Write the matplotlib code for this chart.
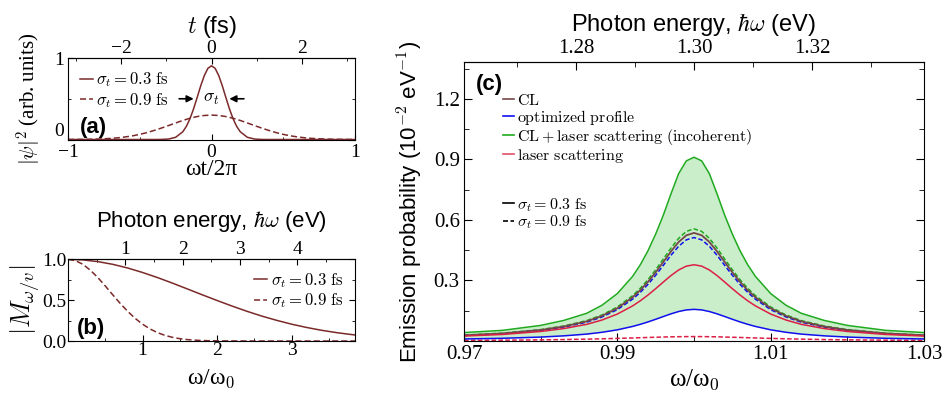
import matplotlib
matplotlib.use('Agg')
import matplotlib.pyplot as plt
from matplotlib.lines import Line2D
from matplotlib.ticker import MultipleLocator

plt.rcParams['font.family'] = ['Liberation Sans', 'DejaVu Sans']
plt.rcParams['mathtext.fontset'] = 'cm'
plt.rcParams['xtick.direction'] = 'in'
plt.rcParams['ytick.direction'] = 'in'
plt.rcParams['xtick.top'] = True
plt.rcParams['ytick.right'] = True

MAROON = '#7b2a2a'
SERIF = ['Liberation Serif', 'DejaVu Serif']

# panel (a): |psi|^2 vs wt/2pi
a_x_03 = [-1.0, -0.5, -0.4, -0.35, -0.3, -0.25, -0.2, -0.175, -0.15, -0.125, -0.1, -0.075, -0.05, -0.025,
          0.0, 0.025, 0.05, 0.075, 0.1, 0.125, 0.15, 0.175, 0.2, 0.25, 0.3, 0.35, 0.4, 0.5, 1.0]
a_y_03 = [0.0, 0.0, 0.0001, 0.0009, 0.0058, 0.027, 0.0956, 0.162, 0.2556, 0.376, 0.516, 0.660, 0.786, 0.874,
          0.905, 0.874, 0.786, 0.660, 0.516, 0.376, 0.2556, 0.162, 0.0956, 0.027, 0.0058, 0.0009, 0.0001, 0.0, 0.0]
a_x_09 = [-1.0, -0.95, -0.9, -0.85, -0.8, -0.75, -0.7, -0.65, -0.6, -0.55, -0.5, -0.45, -0.4, -0.35, -0.3,
          -0.25, -0.2, -0.15, -0.1, -0.05, 0.0, 0.05, 0.1, 0.15, 0.2, 0.25, 0.3, 0.35, 0.4, 0.45, 0.5,
          0.55, 0.6, 0.65, 0.7, 0.75, 0.8, 0.85, 0.9, 0.95, 1.0]
a_y_09 = [0.0006, 0.001, 0.0019, 0.003, 0.0055, 0.009, 0.014, 0.021, 0.032, 0.045, 0.063, 0.085, 0.111, 0.140, 0.171,
          0.203, 0.234, 0.261, 0.282, 0.295, 0.300, 0.295, 0.282, 0.261, 0.234, 0.203, 0.171, 0.140, 0.111, 0.085, 0.063,
          0.045, 0.032, 0.021, 0.014, 0.009, 0.0055, 0.003, 0.0019, 0.001, 0.0006]

# panel (b): |M| vs w/w0
b_x_03 = [0.0, 0.2, 0.4, 0.6, 0.8, 1.0, 1.2, 1.4, 1.6, 1.8, 2.0, 2.2, 2.4, 2.6, 2.8, 3.0, 3.2, 3.4, 3.6, 3.8, 3.9]
b_y_03 = [1.0, 0.993, 0.972, 0.939, 0.894, 0.839, 0.777, 0.709, 0.638, 0.566, 0.496, 0.428, 0.364, 0.305, 0.253,
          0.206, 0.166, 0.1315, 0.1029, 0.0793, 0.0693]
b_x_09 = [0.0, 0.1, 0.2, 0.3, 0.4, 0.5, 0.6, 0.7, 0.8, 0.9, 1.0, 1.1, 1.2, 1.3, 1.4, 1.5, 1.6, 1.7, 1.8, 1.9, 2.0,
          2.5, 3.0, 3.5, 3.9]
b_y_09 = [1.0, 0.984, 0.939, 0.867, 0.777, 0.674, 0.566, 0.461, 0.364, 0.278, 0.206, 0.148, 0.1028, 0.0693, 0.0452,
          0.0286, 0.0175, 0.0104, 0.006, 0.0033, 0.0018, 0.0, 0.0, 0.0, 0.0]

# panel (c): emission probability (1e-2 / eV) vs w/w0
c_omega = [0.970, 0.975, 0.980, 0.983, 0.986, 0.988, 0.990, 0.992, 0.993, 0.994, 0.995, 0.996, 0.997, 0.998, 0.999,
           1.000,
           1.001, 1.002, 1.003, 1.004, 1.005, 1.006, 1.007, 1.008, 1.010, 1.012, 1.014, 1.017, 1.020, 1.025, 1.030]
cl_sum_03 = [0.0419, 0.0528, 0.0774, 0.1020, 0.1374, 0.1774, 0.2352, 0.3209, 0.3783, 0.4478, 0.5302, 0.6241, 0.7300,
             0.8300, 0.8930, 0.911, 0.8930, 0.8300, 0.7300, 0.6241, 0.5302, 0.4478, 0.3783, 0.3209, 0.2352, 0.1774,
             0.1374, 0.1020, 0.0774, 0.0528, 0.0419]
cl_sum_09 = [0.0295, 0.0389, 0.0567, 0.0745, 0.1011, 0.1292, 0.1687, 0.2252, 0.2617, 0.3044, 0.3533, 0.4067, 0.4608,
             0.5092, 0.5435, 0.556, 0.5435, 0.5092, 0.4608, 0.4067, 0.3533, 0.3044, 0.2617, 0.2252, 0.1687, 0.1292,
             0.1011, 0.0745, 0.0567, 0.0389, 0.0295]
cl_only = [0.0284, 0.0375, 0.0547, 0.0718, 0.0974, 0.1245, 0.1626, 0.2171, 0.2522, 0.2935, 0.3406, 0.3920, 0.4442,
           0.4909, 0.5240, 0.536, 0.5240, 0.4909, 0.4442, 0.3920, 0.3406, 0.2935, 0.2522, 0.2171, 0.1626, 0.1245,
           0.0974, 0.0718, 0.0547, 0.0375, 0.0284]
opt_09 = [0.0272, 0.0359, 0.0523, 0.0687, 0.0933, 0.1192, 0.1556, 0.2078, 0.2414, 0.2809, 0.3260, 0.3752, 0.4252,
          0.4699, 0.5015, 0.513, 0.5015, 0.4699, 0.4252, 0.3752, 0.3260, 0.2809, 0.2414, 0.2078, 0.1556, 0.1192,
          0.0933, 0.0687, 0.0523, 0.0359, 0.0272]
laser_03 = [0.0246, 0.0325, 0.0473, 0.0616, 0.0826, 0.1041, 0.1337, 0.1743, 0.1995, 0.2281, 0.2595, 0.2925, 0.3246,
            0.3523, 0.3712, 0.378, 0.3712, 0.3523, 0.3246, 0.2925, 0.2595, 0.2281, 0.1995, 0.1743, 0.1337, 0.1041,
            0.0826, 0.0616, 0.0473, 0.0325, 0.0246]
opt_03 = [0.0102, 0.0135, 0.0196, 0.0256, 0.0343, 0.0433, 0.0555, 0.0724, 0.0829, 0.0947, 0.1078, 0.1215, 0.1348,
          0.1463, 0.1542, 0.157, 0.1542, 0.1463, 0.1348, 0.1215, 0.1078, 0.0947, 0.0829, 0.0724, 0.0555, 0.0433,
          0.0343, 0.0256, 0.0196, 0.0135, 0.0102]
laser_09 = [0.0030, 0.0041, 0.0058, 0.0073, 0.0093, 0.0110, 0.0130, 0.0152, 0.0164, 0.0176, 0.0187, 0.0198, 0.0207,
            0.0214, 0.0219, 0.022, 0.0219, 0.0214, 0.0207, 0.0198, 0.0187, 0.0176, 0.0164, 0.0152, 0.0130, 0.0110,
            0.0093, 0.0073, 0.0058, 0.0041, 0.0030]

E0 = 1.30      # eV, photon energy at w0
T0 = 3.18      # fs, optical period


def serif_ticks(ax, size=14):
    for lab in ax.get_xticklabels() + ax.get_yticklabels():
        lab.set_fontfamily(SERIF)
        lab.set_fontsize(size)


fig = plt.figure(figsize=(9.47, 4.03), dpi=100)

# ---- (a)
ax_a = fig.add_axes([0.0718, 0.6538, 0.3031, 0.2022])
ax_a.plot(a_x_03, a_y_03, color=MAROON, lw=1.1)
ax_a.plot(a_x_09, a_y_09, color=MAROON, lw=1.1, ls=(0, (4, 2)))
ax_a.set_xlim(-1, 1)
ax_a.set_ylim(0, 1)
ax_a.set_xticks([-1, 0, 1])
ax_a.xaxis.set_minor_locator(MultipleLocator(0.5))
ax_a.set_yticks([0, 1])
ax_a.yaxis.set_minor_locator(MultipleLocator(0.5))
ax_a.tick_params(which='both', top=False)
ax_a.tick_params(which='major', length=4, pad=1)
ax_a.tick_params(axis='y', which='major', pad=3)
ax_a.tick_params(axis='x', which='major', pad=3)
ax_a.tick_params(which='minor', length=2.5)
serif_ticks(ax_a)
ax_a.get_yticklabels()[0].set_verticalalignment('bottom')
ax_a.set_xlabel('ωt/2π', fontfamily=SERIF, fontsize=17, labelpad=-1)
ax_a.set_ylabel(r'$|\psi|^2$ (arb. units)', fontfamily=SERIF, fontsize=15, labelpad=7)
sec_a = ax_a.secondary_xaxis('top', functions=(lambda x: x * T0, lambda t: t / T0))
sec_a.set_xticks([-2, 0, 2])
sec_a.xaxis.set_minor_locator(MultipleLocator(1))
sec_a.tick_params(which='major', direction='in', length=4, pad=1)
sec_a.tick_params(which='minor', direction='in', length=2.5)
serif_ticks(sec_a)
sec_a.set_xlabel(r'$t$ (fs)', fontsize=17, labelpad=5)
ax_a.text(0.04, 0.08, '(a)', transform=ax_a.transAxes, fontsize=16, fontweight='bold')
ax_a.annotate('', xy=(-0.105, 0.5), xytext=(-0.245, 0.5),
              arrowprops=dict(arrowstyle='-|>', color='black', lw=1.2, mutation_scale=10))
ax_a.annotate('', xy=(0.105, 0.5), xytext=(0.245, 0.5),
              arrowprops=dict(arrowstyle='-|>', color='black', lw=1.2, mutation_scale=10))
ax_a.text(0.0, 0.5, r'$\sigma_t$', ha='center', va='center', fontsize=13)
hl_a = [Line2D([], [], color=MAROON, lw=1.1), Line2D([], [], color=MAROON, lw=1.1, ls=(0, (4, 2)))]
ax_a.legend(hl_a, [r'$\sigma_t = 0.3\ \mathrm{fs}$', r'$\sigma_t = 0.9\ \mathrm{fs}$'], loc='upper left',
            bbox_to_anchor=(0.0, 0.99), frameon=False, fontsize=12, handlelength=0.8, handletextpad=0.2,
            labelspacing=0.1, borderaxespad=0.3)

# ---- (b)
ax_b = fig.add_axes([0.0718, 0.1538, 0.3031, 0.2027])
ax_b.plot(b_x_03, b_y_03, color=MAROON, lw=1.1)
ax_b.plot(b_x_09, b_y_09, color=MAROON, lw=1.1, ls=(0, (4, 2)))
ax_b.set_xlim(0, 3.85)
ax_b.set_ylim(0, 1)
ax_b.set_xticks([1, 2, 3])
ax_b.xaxis.set_minor_locator(MultipleLocator(0.5))
ax_b.set_yticks([0, 0.5, 1.0])
ax_b.set_yticklabels(['0.0', '0.5', '1.0'])
ax_b.yaxis.set_minor_locator(MultipleLocator(0.25))
ax_b.tick_params(which='both', top=False)
ax_b.tick_params(which='major', length=4, pad=1)
ax_b.tick_params(which='minor', length=2.5)
serif_ticks(ax_b)
ax_b.set_xlabel(r'ω/ω$_0$', fontfamily=SERIF, fontsize=17, labelpad=6)
ax_b.set_ylabel(r'$|M_{\omega/v}|$', fontsize=19, labelpad=0)
sec_b = ax_b.secondary_xaxis('top', functions=(lambda x: x * E0, lambda e: e / E0))
sec_b.set_xticks([1, 2, 3, 4])
sec_b.xaxis.set_minor_locator(MultipleLocator(0.5))
sec_b.tick_params(which='major', direction='in', length=4, pad=1)
sec_b.tick_params(which='minor', direction='in', length=2.5)
serif_ticks(sec_b)
sec_b.set_xlabel(r'Photon energy, $\hbar\omega$ (eV)', fontsize=16, labelpad=10)
ax_b.text(0.03, 0.08, '(b)', transform=ax_b.transAxes, fontsize=16, fontweight='bold')
ax_b.legend(hl_a, [r'$\sigma_t = 0.3\ \mathrm{fs}$', r'$\sigma_t = 0.9\ \mathrm{fs}$'], loc='upper right',
            bbox_to_anchor=(1.0, 1.0), frameon=False, fontsize=12, handlelength=0.8, handletextpad=0.2,
            labelspacing=0.1, borderaxespad=0.3)

# ---- (c)
CL_C = '#744848'
BLUE = '#1010ee'
GREEN = '#1faa1f'
RED = '#dc1f45'
ax_c = fig.add_axes([0.4900, 0.1538, 0.4857, 0.6923])
ax_c.fill_between(c_omega, opt_03, cl_sum_03, color='#caedca', lw=0)
ax_c.plot(c_omega, cl_sum_09, color=GREEN, lw=1.1, ls=(0, (3, 1.5)))
ax_c.plot(c_omega, opt_09, color=BLUE, lw=1.1, ls=(0, (3, 1.5)))
ax_c.plot(c_omega, laser_09, color=RED, lw=1.1, ls=(0, (3, 1.5)))
ax_c.plot(c_omega, cl_sum_03, color=GREEN, lw=1.1)
ax_c.plot(c_omega, cl_only, color=CL_C, lw=1.3)
ax_c.plot(c_omega, laser_03, color=RED, lw=1.1)
ax_c.plot(c_omega, opt_03, color=BLUE, lw=1.1)
ax_c.set_xlim(0.97, 1.03)
ax_c.set_ylim(0, 1.383)
ax_c.set_xticks([0.97, 0.99, 1.01, 1.03])
ax_c.set_xticklabels(['0.97', '0.99', '1.01', '1.03'])
ax_c.xaxis.set_minor_locator(MultipleLocator(0.01))
ax_c.set_yticks([0.3, 0.6, 0.9, 1.2])
ax_c.set_yticklabels(['0.3', '0.6', '0.9', '1.2'])
ax_c.yaxis.set_minor_locator(MultipleLocator(0.15))
ax_c.tick_params(which='both', top=False)
ax_c.tick_params(which='major', length=6, pad=3)
ax_c.tick_params(which='minor', length=3.5)
serif_ticks(ax_c, 15)
ax_c.set_xlabel(r'ω/ω$_0$', fontfamily=SERIF, fontsize=18, labelpad=2)
ax_c.set_ylabel(r'Emission probability (10$^{-2}$ eV$^{-1}$)', fontsize=16, labelpad=6)
sec_c = ax_c.secondary_xaxis('top', functions=(lambda x: x * E0, lambda e: e / E0))
sec_c.set_xticks([1.28, 1.30, 1.32])
sec_c.set_xticklabels(['1.28', '1.30', '1.32'])
sec_c.xaxis.set_minor_locator(MultipleLocator(0.01))
sec_c.tick_params(which='major', direction='in', length=6, pad=3)
sec_c.tick_params(which='minor', direction='in', length=3.5)
serif_ticks(sec_c, 15)
sec_c.set_xlabel(r'Photon energy, $\hbar\omega$ (eV)', fontsize=17, labelpad=6)
ax_c.text(0.025, 0.9, '(c)', transform=ax_c.transAxes, fontsize=16, fontweight='bold')

h_col = [Line2D([], [], color=CL_C, lw=1.2), Line2D([], [], color=BLUE, lw=1.2),
         Line2D([], [], color=GREEN, lw=1.2), Line2D([], [], color='#e0506a', lw=1.2)]
lab_col = [r'$\mathrm{CL}$', r'$\mathrm{optimized\ profile}$',
           r'$\mathrm{CL} + \mathrm{laser\ scattering\ (incoherent)}$', r'$\mathrm{laser\ scattering}$']
leg1 = ax_c.legend(h_col, lab_col, loc='upper left', bbox_to_anchor=(0.06, 0.93), frameon=False, fontsize=11.5,
                   handlelength=0.7, handletextpad=0.2, labelspacing=0.0, borderaxespad=0.3)
ax_c.add_artist(leg1)
h_sig = [Line2D([], [], color='black', lw=1.2), Line2D([], [], color='black', lw=1.2, ls=(0, (3, 1.5)))]
ax_c.legend(h_sig, [r'$\sigma_t = 0.3\ \mathrm{fs}$', r'$\sigma_t = 0.9\ \mathrm{fs}$'], loc='upper left',
            bbox_to_anchor=(0.06, 0.56), frameon=False, fontsize=11.5, handlelength=0.7, handletextpad=0.2,
            labelspacing=0.0, borderaxespad=0.3)

fig.savefig('out.png', dpi=100)
